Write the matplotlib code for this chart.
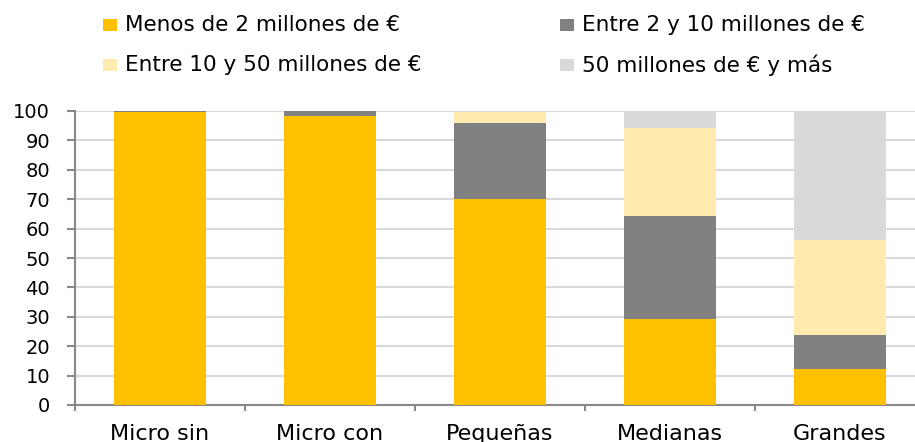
import matplotlib
matplotlib.use("Agg")
import matplotlib.pyplot as plt
from matplotlib.patches import Rectangle
import numpy as np

categories = ["Micro sin", "Micro con", "Pequeñas", "Medianas", "Grandes"]
series_names = ["Menos de 2 millones de €", "Entre 2 y 10 millones de €",
                "Entre 10 y 50 millones de €", "50 millones de € y más"]
menos_2 = [99.6, 98.3, 70.0, 29.4, 12.2]
entre_2_10 = [0.4, 1.7, 25.9, 34.9, 11.6]
entre_10_50 = [0.0, 0.0, 3.8, 29.9, 32.3]
mas_50 = [0.0, 0.0, 0.3, 5.8, 43.9]
colors = ["#FFC000", "#808080", "#FFEBAF", "#D9D9D9"]

W, H = 915, 442
fig = plt.figure(figsize=(W / 100, H / 100), dpi=100)
ax = fig.add_axes([75 / W, 1 - 405 / H, 850 / W, 294 / H])

x = np.arange(len(categories))
bottom = np.zeros(len(categories))
for vals, name, c in zip([menos_2, entre_2_10, entre_10_50, mas_50], series_names, colors):
    ax.bar(x, vals, width=0.54, bottom=bottom, color=c, label=name, zorder=3)
    bottom += np.array(vals)

ax.set_ylim(0, 100)
ax.set_xlim(-0.5, 4.5)
ax.set_yticks(range(0, 101, 10))
ax.yaxis.grid(True, color="#D9D9D9", linewidth=1.5, zorder=0)
ax.set_axisbelow(True)
for s in ["top", "right"]:
    ax.spines[s].set_visible(False)
for s in ["left", "bottom"]:
    ax.spines[s].set_color("#888888")
    ax.spines[s].set_linewidth(1.5)

ax.set_xticks(x)
ax.set_xticklabels(categories, fontsize=16)
ax.set_xticks(np.arange(-0.5, 5, 1), minor=True)
ax.tick_params(axis="x", which="major", length=0, pad=13.5)
ax.tick_params(axis="x", which="minor", length=4.5, width=1.5, color="#888888")
ax.tick_params(axis="y", length=6, width=1.5, color="#888888", labelsize=14, pad=12)

# legend: two rows, two columns, placed by hand like the original
leg_pos = [(103, 25), (560, 25), (103, 65), (560, 65)]  # pixel positions (marker left, row centre)
for (px, py), name, c in zip(leg_pos, series_names, colors):
    fig.add_artist(Rectangle((px / W, 1 - (py + 6) / H), 14 / W, 12 / H,
                             transform=fig.transFigure, color=c, lw=0))
    fig.text((px + 22) / W, 1 - py / H, name, fontsize=15.5, va="center", ha="left")

fig.savefig("out.png", dpi=100)
